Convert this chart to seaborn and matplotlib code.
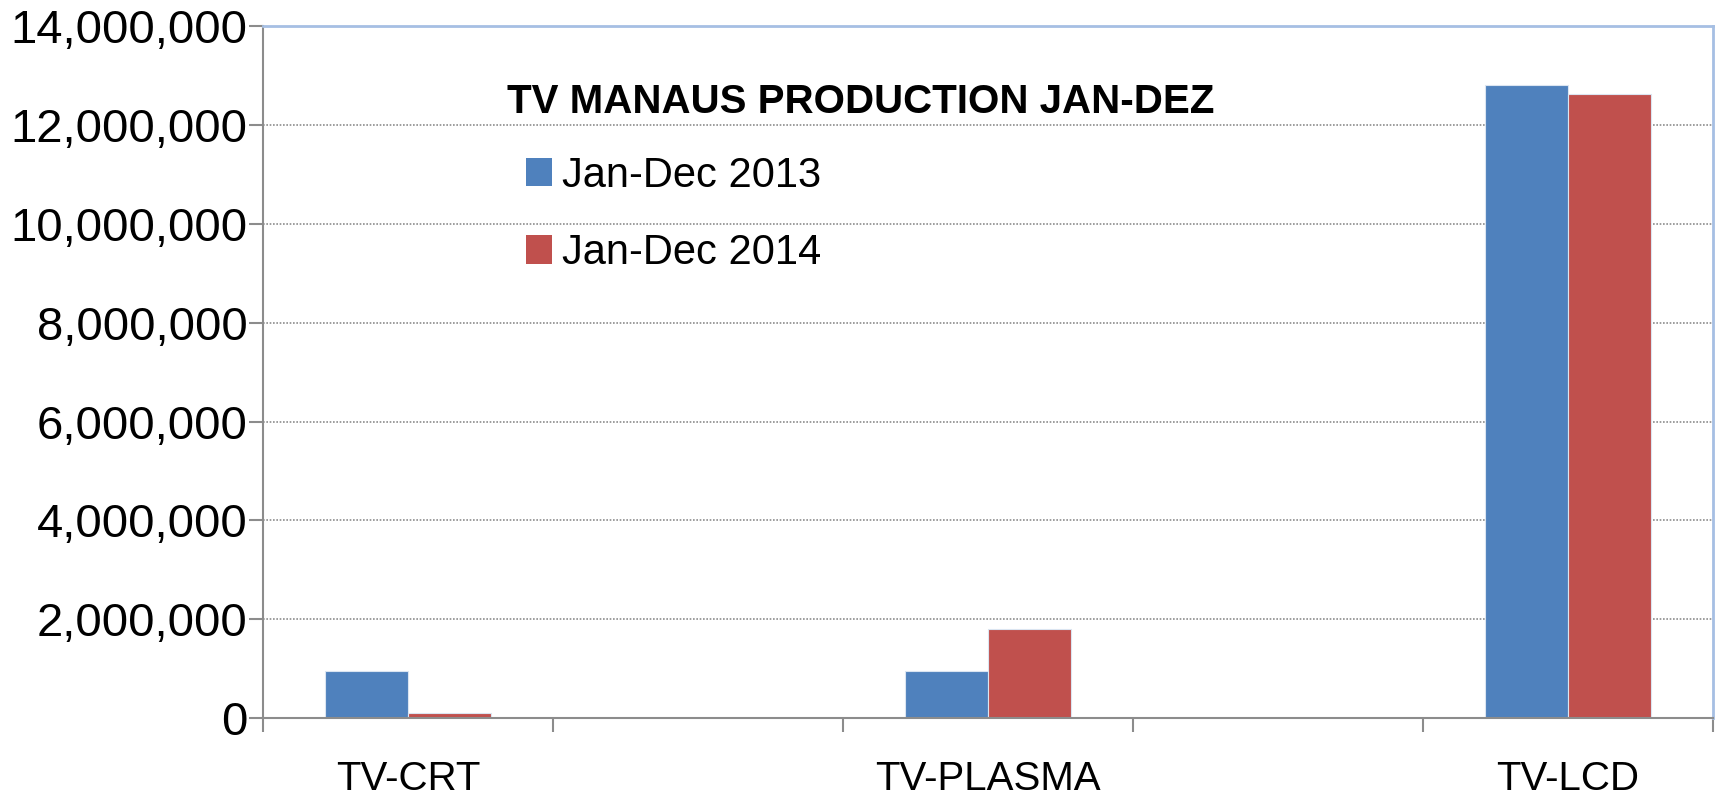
import matplotlib
matplotlib.use("Agg")
import matplotlib.pyplot as plt
import matplotlib.ticker as mticker
import seaborn as sns
import pandas as pd
import numpy as np

# ── Data ──────────────────────────────────────────────────────────────────────
categories = ["TV-CRT", "gap1", "TV-PLASMA", "gap2", "TV-LCD"]
tick_labels = ["TV-CRT", "", "TV-PLASMA", "", "TV-LCD"]
series = ["Jan-Dec 2013", "Jan-Dec 2014"]
prod_2013 = [960000, np.nan, 950000, np.nan, 12820000]
prod_2014 = [100000, np.nan, 1810000, np.nan, 12620000]
chart_title = "TV MANAUS PRODUCTION JAN-DEZ"

COLORS = ["#4F81BD", "#C0504D"]

df = pd.DataFrame({
    "category": categories * 2,
    "series": [series[0]] * 5 + [series[1]] * 5,
    "value": prod_2013 + prod_2014,
})

sns.set_style("white")
plt.rcParams["font.family"] = ["Liberation Sans", "DejaVu Sans"]
plt.rcParams["text.color"] = "black"

fig = plt.figure(figsize=(17.19, 7.96), dpi=100)
ax = fig.add_axes([0.153, 0.098, 0.8435, 0.869])

sns.barplot(data=df, x="category", y="value", hue="series", order=categories,
            hue_order=series, palette=COLORS, width=0.57, saturation=1,
            edgecolor="#dbe5f1", linewidth=0.8, ax=ax)

ax.set_ylim(0, 14000000)
ax.set_xlim(-0.5, 4.5)
ax.yaxis.set_major_locator(mticker.MultipleLocator(2000000))
ax.yaxis.set_major_formatter(mticker.FuncFormatter(lambda v, _: f"{v:,.0f}"))
ax.set_xticks(range(5))
ax.set_xticklabels(tick_labels)
ax.set_xticks(np.arange(-0.5, 5.0, 1.0), minor=True)
ax.tick_params(axis="x", which="major", length=0, pad=30, labelsize=29,
               labelcolor="black")
ax.tick_params(axis="x", which="minor", length=10, width=1.5, color="#8c8c8c",
               direction="out", bottom=True)
ax.tick_params(axis="y", length=10, width=1.5, color="#8c8c8c", labelsize=34,
               left=True, pad=1, labelcolor="black")
ax.set_xlabel("")
ax.set_ylabel("")

# gridlines dotted, skip top one
for yv in range(2000000, 14000000, 2000000):
    ax.axhline(yv, color="#8c8c8c", linestyle=(0, (1, 1)), linewidth=1.2, zorder=0)

for side in ["left", "bottom"]:
    ax.spines[side].set_color("#8c8c8c")
    ax.spines[side].set_linewidth(1.5)
for side in ["top", "right"]:
    ax.spines[side].set_color("#a6bfe3")
    ax.spines[side].set_linewidth(2)

# title inside plot area + legend below it
ax.text(0.1686, 0.891, chart_title, transform=ax.transAxes, ha="left",
        va="center", fontsize=29, fontweight="bold", color="black")
leg = ax.legend(loc="center left", bbox_to_anchor=(0.1814, 0.728),
                frameon=False, fontsize=30, borderpad=0, borderaxespad=0,
                handlelength=0.63, handleheight=0.68, handletextpad=0.24,
                labelspacing=0.9)
for h in leg.legend_handles:
    h.set_edgecolor("none")

fig.savefig("out.png", dpi=100)
